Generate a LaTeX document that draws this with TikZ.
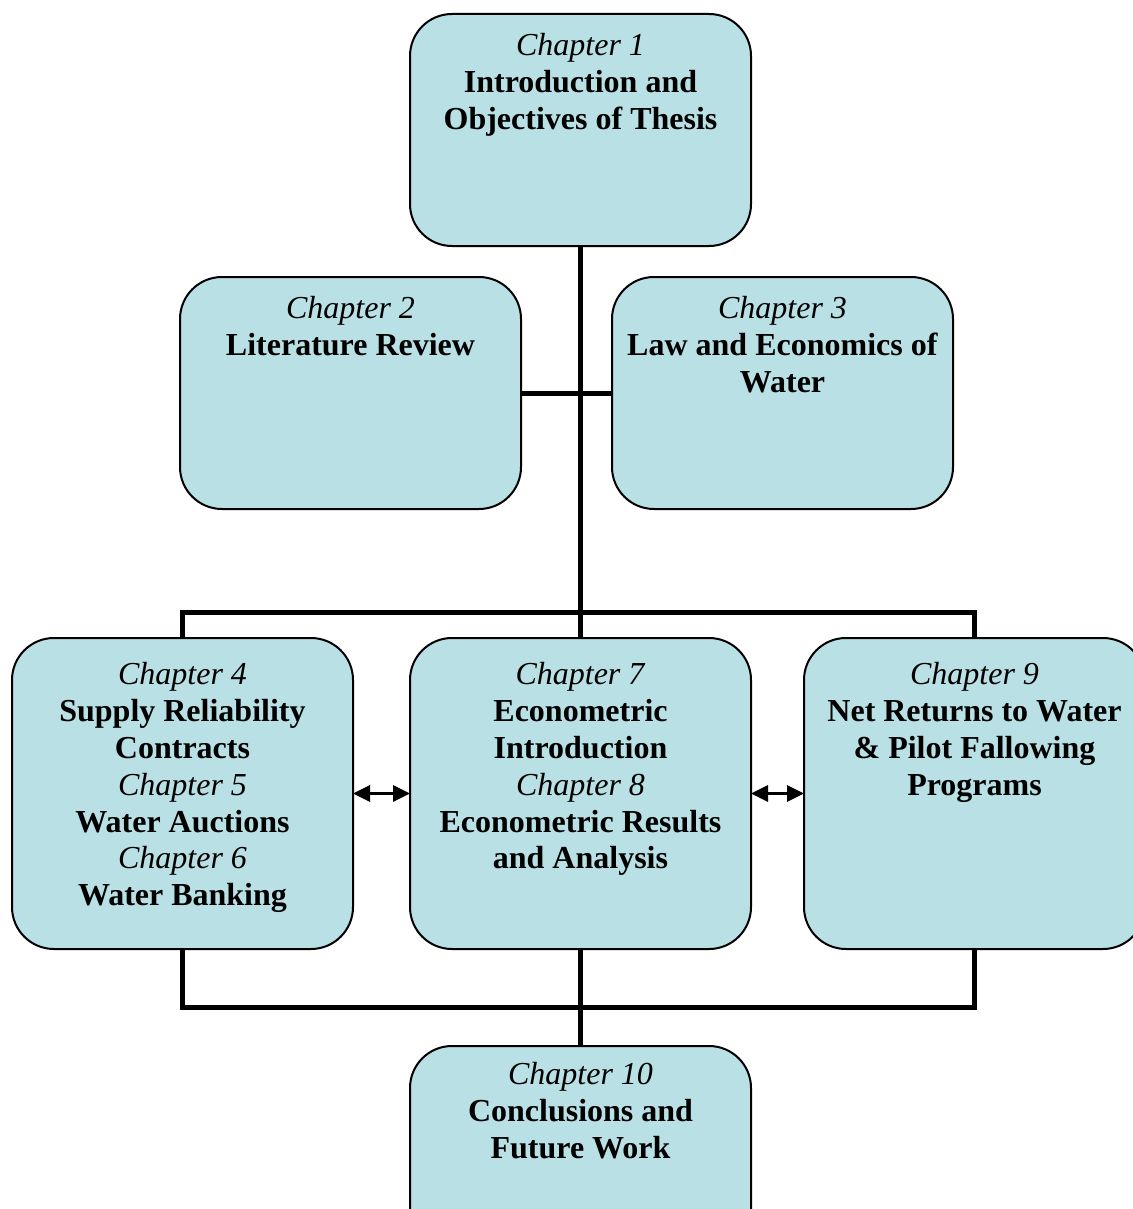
\documentclass[tikz,border=0pt]{standalone}
\usepackage{fontspec}
\setmainfont{Liberation Serif}
\usetikzlibrary{arrows.meta}
\definecolor{boxfill}{RGB}{185,224,228}
\tikzset{
  chbox/.style={draw=black, line width=2pt, fill=boxfill, rounded corners=42pt,
    minimum width=341pt, minimum height=232pt, inner sep=0pt, anchor=north west},
  tallbox/.style={chbox, minimum height=311pt},
  chtext/.style={anchor=north, align=center, inner sep=0pt,
    font=\fontsize{32}{36.9}\selectfont},
  trunk/.style={line width=5pt},
  dbl/.style={line width=3pt, {Triangle[length=17pt,width=16pt]}-{Triangle[length=17pt,width=16pt]}, shorten <=-1pt, shorten >=-1pt}
}
\newcommand{\ch}[1]{\textit{#1}}
\begin{document}
\begin{tikzpicture}[x=1pt,y=-1pt]
\useasboundingbox (0,0) rectangle (1132,1209);
\fill[white] (0,0) rectangle (1132,1209);
% boxes
\node[chbox] (b1) at (409,13) {};
\node[chbox] (b2) at (179,276) {};
\node[chbox] (b3) at (611,276) {};
\node[tallbox] (b4) at (11,637) {};
\node[tallbox] (b7) at (409,637) {};
\node[tallbox] (b9) at (803,637) {};
\node[chbox] (b10) at (409,1045) {};
% connectors
\coordinate (topbus) at (580,612);
\coordinate (botbus) at (580,1007);
\draw[trunk] (b1.south) -- (b7.north);
\draw[trunk] (b2.east) -- (b3.west);
\draw[trunk] (b4.north) -- (b4.north |- topbus) -- (b9.north |- topbus) -- (b9.north);
\draw[trunk] (b4.south) -- (b4.south |- botbus) -- (b9.south |- botbus) -- (b9.south);
\draw[trunk] (b7.south) -- (b10.north);
\draw[dbl] (b4.east) -- (b7.west);
\draw[dbl] (b7.east) -- (b9.west);
% texts
\node[chtext] (t1) at ([yshift=-20pt]b1.north) {\ch{Chapter 1}\\\textbf{Introduction and}\\\textbf{Objectives of Thesis}};
\node[chtext] (t2) at ([yshift=-20pt]b2.north) {\ch{Chapter 2}\\\textbf{Literature Review}};
\node[chtext] (t3) at ([yshift=-20pt]b3.north) {\ch{Chapter 3}\\\textbf{Law and Economics of}\\\textbf{Water}};
\node[chtext] (t4) at ([yshift=-25pt]b4.north) {\ch{Chapter 4}\\\textbf{Supply Reliability}\\\textbf{Contracts}\\\ch{Chapter 5}\\\textbf{Water Auctions}\\\ch{Chapter 6}\\\textbf{Water Banking}};
\node[chtext] (t7) at ([yshift=-25pt]b7.north) {\ch{Chapter 7}\\\textbf{Econometric}\\\textbf{Introduction}\\\ch{Chapter 8}\\\textbf{Econometric Results}\\\textbf{and Analysis}};
\node[chtext] (t9) at ([yshift=-25pt]b9.north) {\ch{Chapter 9}\\\textbf{Net Returns to Water}\\\textbf{\& Pilot Fallowing}\\\textbf{Programs}};
\node[chtext] (t10) at ([yshift=-17pt]b10.north) {\ch{Chapter 10}\\\textbf{Conclusions and}\\\textbf{Future Work}};
\end{tikzpicture}
\end{document}
